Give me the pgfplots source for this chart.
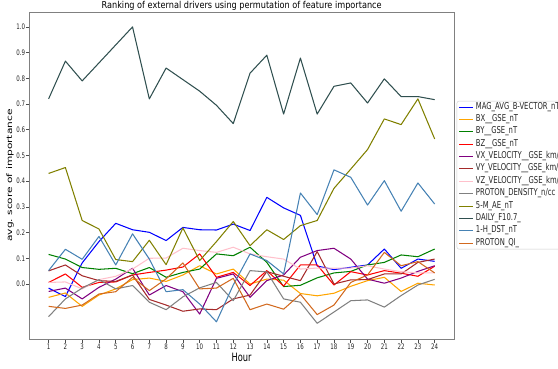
\documentclass[border=0pt]{standalone}
\usepackage{fontspec}
\setmainfont{DejaVu Sans}[FakeStretch=0.72]
\newfontfamily\ylabfont{DejaVu Sans}
\newfontfamily\titlefont{DejaVu Sans}[FakeStretch=0.86]
\usepackage{graphicx}
\usepackage{pgfplots}
\usepackage{pgfplotstable}
\pgfplotsset{compat=1.18}
\definecolor{cMag}{RGB}{0,0,255}
\definecolor{cBX}{RGB}{255,165,0}
\definecolor{cBY}{RGB}{0,128,0}
\definecolor{cBZ}{RGB}{255,0,0}
\definecolor{cVX}{RGB}{128,0,128}
\definecolor{cVY}{RGB}{165,42,42}
\definecolor{cVZ}{RGB}{255,192,203}
\definecolor{cPD}{RGB}{128,128,128}
\definecolor{cAE}{RGB}{128,128,0}
\definecolor{cF}{RGB}{47,79,79}
\definecolor{cDST}{RGB}{70,130,180}
\definecolor{cQI}{RGB}{210,105,30}
\pgfplotstableread{
h mag bx by bz vx vy vz pd ae f107 dst qi
1 -0.016 -0.052 0.115 0.006 -0.029 0.051 0.006 -0.127 0.430 0.720 0.052 -0.087
2 -0.049 -0.035 0.097 0.039 -0.016 0.074 0.008 -0.058 0.453 0.867 0.135 -0.095
3 0.082 -0.087 0.064 -0.013 -0.058 0.032 -0.019 -0.016 0.247 0.790 0.096 -0.082
4 0.165 -0.043 0.057 0.006 -0.013 0.013 0.017 0.017 0.214 0.860 0.185 -0.039
5 0.236 -0.019 0.061 0.008 0.019 0.010 0.030 -0.019 0.095 0.930 0.074 -0.030
6 0.211 0.017 0.040 0.035 0.061 0.035 0.058 -0.006 0.087 1.000 0.195 0.026
7 0.201 0.023 0.064 0.045 -0.043 -0.060 0.100 -0.071 0.170 0.720 0.097 -0.026
8 0.169 0.010 0.026 0.054 -0.006 -0.082 0.101 -0.100 0.075 0.840 -0.030 0.020
9 0.220 0.035 0.045 0.066 -0.030 -0.106 0.139 -0.050 0.218 0.795 -0.022 0.082
10 0.211 0.071 0.058 0.117 -0.117 -0.097 0.130 -0.015 0.091 0.750 -0.078 -0.019
11 0.210 0.039 0.117 0.026 0.022 -0.100 0.123 0.006 0.165 0.695 -0.147 -0.016
12 0.233 0.058 0.110 0.045 0.039 -0.058 0.143 -0.065 0.243 0.624 -0.004 0.022
13 0.208 0.000 0.143 -0.006 -0.052 -0.043 0.117 0.052 0.149 0.820 0.117 -0.100
14 0.337 0.019 0.084 0.052 0.013 0.048 0.106 0.047 0.211 0.890 0.091 -0.078
15 0.296 0.015 -0.010 -0.008 0.035 0.030 0.097 -0.058 0.173 0.661 0.039 -0.098
16 0.267 -0.037 -0.005 0.074 0.104 0.013 0.058 -0.071 0.227 0.879 0.354 -0.040
17 0.070 -0.046 0.024 0.074 0.130 0.126 0.062 -0.153 0.247 0.661 0.270 -0.119
18 0.056 -0.036 0.043 -0.004 0.139 0.000 0.062 -0.109 0.372 0.769 0.444 -0.082
19 0.065 -0.009 0.049 0.048 0.097 0.016 0.062 -0.065 0.447 0.782 0.415 0.006
20 0.074 0.013 0.074 0.035 0.019 0.017 0.071 -0.062 0.523 0.704 0.307 0.035
21 0.136 0.026 0.084 0.052 0.003 0.039 0.058 -0.090 0.642 0.798 0.402 0.123
22 0.061 -0.029 0.113 0.042 0.023 0.039 0.048 -0.045 0.620 0.729 0.283 0.071
23 0.097 0.003 0.106 0.030 0.049 0.084 0.043 -0.004 0.720 0.729 0.393 0.087
24 0.088 -0.004 0.136 0.069 0.071 0.097 0.043 0.018 0.564 0.717 0.311 0.043
}\data
\begin{document}
\begin{tikzpicture}
\useasboundingbox (0pt,0pt) rectangle (558pt,368pt);
\begin{scope}
\clip (0pt,0pt) rectangle (558pt,368pt);
\begin{axis}[
  at={(29.3pt,29pt)}, anchor=south west,
  scale only axis, width=424.7pt, height=327pt,
  xmin=-0.15, xmax=25.15, ymin=-0.214, ymax=1.058,
  xtick={1,...,24},
  ytick={0,0.1,0.2,0.3,0.4,0.5,0.6,0.7,0.8,0.9,1.0},
  yticklabel style={/pgf/number format/fixed, /pgf/number format/fixed zerofill, /pgf/number format/precision=1},
  /pgf/number format/assume math mode=true,
  tick align=outside, xtick pos=bottom, ytick pos=left,
  major tick length=3.5pt,
  axis line style={black!50, line width=0.8pt},
  tick style={black!70, line width=0.6pt},
  ticklabel style={font=\fontsize{7.6}{8}\selectfont, text=black!85},
  xticklabel style={inner sep=1pt},
  yticklabel style={inner xsep=0.5pt},
  every axis title shift=0pt,
  title={\titlefont Ranking of external drivers using permutation of feature importance},
  title style={font=\fontsize{9.5}{11}\selectfont, at={(axis description cs:0.5,1.0092)}, anchor=base, yshift=0pt, inner sep=0pt},
  xlabel={Hour},
  xlabel style={font=\fontsize{11.5}{13}\selectfont, at={(axis description cs:0.5,-0.055)}, anchor=center, inner sep=0pt},
  ylabel={\scalebox{1}[0.72]{\ylabfont\fontsize{10.6}{12}\selectfont avg.\ score of importance}},
  ylabel style={at={(axis description cs:-0.0455,0.5)}, anchor=center, inner sep=0pt},
  every axis plot/.append style={line width=1.05pt, line join=round},
  legend cell align=left,
  legend image code/.code={\draw[#1] (0pt,0pt) -- (14pt,0pt);},
  legend style={at={(axis description cs:1.0064,0.728)}, anchor=north west,
    draw=black!20, rounded corners=2pt, fill=white,
    font=\fontsize{9.5}{10}\selectfont, text=black!85,
    inner xsep=2pt, inner ysep=2pt, row sep=4.36pt,
    nodes={inner ysep=0pt, inner xsep=2pt, text height=6pt, text depth=2pt}},
]
\addplot[cMag] table[x=h,y=mag]{\data};
\addlegendentry{MAG\_AVG\_B-VECTOR\_nT}
\addplot[cBX] table[x=h,y=bx]{\data};
\addlegendentry{BX\_\_GSE\_nT}
\addplot[cBY] table[x=h,y=by]{\data};
\addlegendentry{BY\_\_GSE\_nT}
\addplot[cBZ] table[x=h,y=bz]{\data};
\addlegendentry{BZ\_\_GSE\_nT}
\addplot[cVX] table[x=h,y=vx]{\data};
\addlegendentry{VX\_VELOCITY\_\_GSE\_km/s}
\addplot[cVY] table[x=h,y=vy]{\data};
\addlegendentry{VY\_VELOCITY\_\_GSE\_km/s}
\addplot[cVZ] table[x=h,y=vz]{\data};
\addlegendentry{VZ\_VELOCITY\_\_GSE\_km/s}
\addplot[cPD] table[x=h,y=pd]{\data};
\addlegendentry{PROTON\_DENSITY\_n/cc}
\addplot[cAE] table[x=h,y=ae]{\data};
\addlegendentry{5-M\_AE\_nT}
\addplot[cF] table[x=h,y=f107]{\data};
\addlegendentry{DAILY\_F10.7\_}
\addplot[cDST] table[x=h,y=dst]{\data};
\addlegendentry{1-H\_DST\_nT}
\addplot[cQI] table[x=h,y=qi]{\data};
\addlegendentry{PROTON\_QI\_}
\end{axis}
\end{scope}
\end{tikzpicture}
\end{document}
